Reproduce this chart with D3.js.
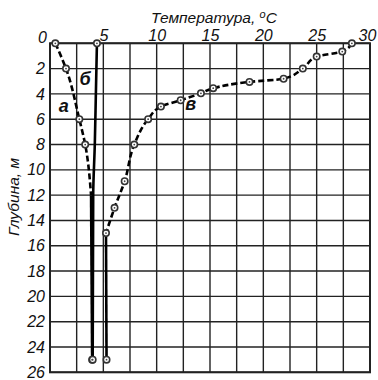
<!DOCTYPE html>
<html>
<head>
<meta charset="utf-8">
<script src="https://cdn.jsdelivr.net/npm/d3@7"></script>
<style>
  html, body { margin: 0; padding: 0; background: #fff; }
  svg { display: block; }
  text { font-family: "Liberation Sans", Arial, sans-serif; font-style: italic; fill: #111; }
</style>
</head>
<body>
<svg id="chart" width="378" height="380"></svg>
<script>
// Temperature profiles with depth: curves а, б, в
const tempTicks = [5, 10, 15, 20, 25, 30];
const depthTicks = [0, 2, 4, 6, 8, 10, 12, 14, 16, 18, 20, 22, 24, 26];

// curve а (dashed upper part, then merges into б)
const depthA = [0, 2, 6, 8, 12, 25];
const tempA  = [0.5, 1.5, 2.75, 3.3, 3.85, 3.95];
const markedA = [0, 1, 2, 3, 5];
const solidFromA = 4;

// curve б (solid)
const depthB = [0, 4, 8, 12, 25];
const tempB  = [4.4, 4.3, 4.2, 4.05, 4.0];
const markedB = [0, 4];
const solidFromB = 0;

// curve в
const depthV = [0, 0.65, 1.05, 2.0, 2.8, 3.05, 3.55, 3.95, 4.5, 5.0, 6.0, 8.0, 10.9, 13.0, 15.0, 25];
const tempV  = [28.3, 27.4, 25.0, 23.7, 21.9, 18.7, 15.3, 14.15, 12.25, 10.4, 9.2, 7.9, 7.0, 6.05, 5.25, 5.3];
const markedV = [0, 1, 2, 3, 4, 5, 6, 7, 8, 9, 10, 11, 12, 13, 14, 15];
const solidFromV = 14;

const curveLabels = [
  { text: "а", t: 1.3, d: 5.4 },
  { text: "б", t: 3.3, d: 3.3 },
  { text: "в", t: 13.2, d: 5.3 }
];

const svg = d3.select("#chart");
const x = d3.scaleLinear().domain([0, 30]).range([50, 370]);
const y = d3.scaleLinear().domain([0, 26]).range([43.3, 372.3]);

// grid
const grid = svg.append("g").attr("stroke", "#222").attr("stroke-width", 1.4);
grid.selectAll("line.v").data(d3.range(0, 30.01, 2.5)).join("line")
  .attr("x1", d => x(d)).attr("x2", d => x(d))
  .attr("y1", y(0)).attr("y2", y(26));
grid.selectAll("line.h").data(d3.range(0, 26.01, 2)).join("line")
  .attr("x1", x(0)).attr("x2", x(30))
  .attr("y1", d => y(d)).attr("y2", d => y(d));
svg.append("rect")
  .attr("x", x(0)).attr("y", y(0))
  .attr("width", x(30) - x(0)).attr("height", y(26) - y(0))
  .attr("fill", "none").attr("stroke", "#222").attr("stroke-width", 2);

// axes
const xAxis = svg.append("g").attr("transform", `translate(0,${y(0)})`)
  .call(d3.axisTop(x).tickValues(tempTicks).tickSize(0).tickPadding(2));
const yAxis = svg.append("g").attr("transform", `translate(${x(0)},0)`)
  .call(d3.axisLeft(y).tickValues(depthTicks).tickSize(0).tickPadding(5));
[xAxis, yAxis].forEach(a => {
  a.select(".domain").remove();
  a.selectAll("text").attr("font-family", "Liberation Sans, Arial, sans-serif")
    .attr("font-size", 16).attr("font-style", "italic").attr("fill", "#111");
});
yAxis.selectAll(".tick").filter(d => d === 0).select("text").attr("dy", "-0.05em").attr("x", -3);
xAxis.selectAll(".tick").filter(d => d === 30).select("text").attr("x", -3);

// titles
const tt = svg.append("text").attr("x", 151).attr("y", 23).attr("font-size", 15.5);
tt.append("tspan").text("Температура, ");
tt.append("tspan").attr("font-size", 11).attr("dy", -5).text("o");
tt.append("tspan").attr("dy", 5).text("C");

svg.append("text")
  .attr("transform", "translate(19,197) rotate(-90)")
  .attr("text-anchor", "middle").attr("font-size", 15.5)
  .text("Глубина, м");

// curves
const line = d3.line().x(d => x(d.t)).y(d => y(d.d)).curve(d3.curveMonotoneY);
function drawCurve(temps, depths, marked, solidFrom) {
  const pts = temps.map((t, i) => ({ t, d: depths[i] }));
  if (solidFrom > 0) {
    svg.append("path").datum(pts.slice(0, solidFrom + 1)).attr("d", line)
      .attr("fill", "none").attr("stroke", "#000").attr("stroke-width", 2.6)
      .attr("stroke-dasharray", "6,3");
  }
  svg.append("path").datum(pts.slice(solidFrom)).attr("d", line)
    .attr("fill", "none").attr("stroke", "#000").attr("stroke-width", 2.6);
  return marked.map(i => pts[i]);
}
const marks = [
  ...drawCurve(tempA, depthA, markedA, solidFromA),
  ...drawCurve(tempB, depthB, markedB, solidFromB),
  ...drawCurve(tempV, depthV, markedV, solidFromV)
];
svg.append("g").selectAll("circle").data(marks).join("circle")
  .attr("cx", d => x(d.t)).attr("cy", d => y(d.d)).attr("r", 3.2)
  .attr("fill", "#fff").attr("stroke", "#333").attr("stroke-width", 1.6);
svg.append("g").selectAll("circle").data(marks).join("circle")
  .attr("cx", d => x(d.t)).attr("cy", d => y(d.d)).attr("r", 0.9)
  .attr("fill", "#444");

// curve letters
svg.append("g").selectAll("text").data(curveLabels).join("text")
  .attr("x", d => x(d.t)).attr("y", d => y(d.d))
  .attr("font-size", 18).attr("font-weight", "bold")
  .attr("text-anchor", "middle")
  .text(d => d.text);
</script>
</body>
</html>
